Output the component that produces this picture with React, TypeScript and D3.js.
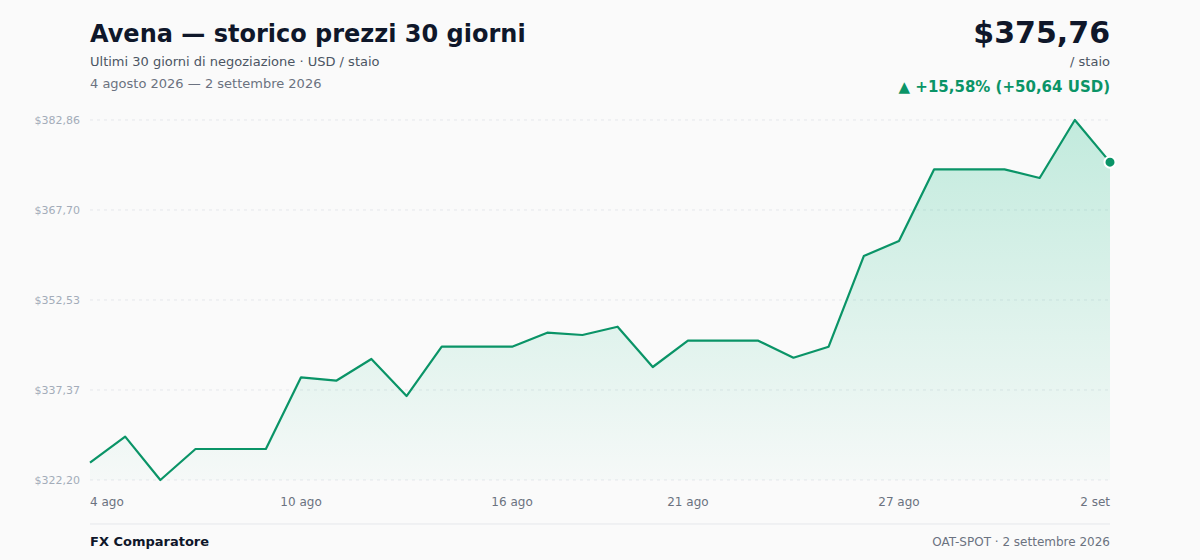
import React, { useEffect, useRef } from 'react';
import * as d3 from 'd3';

// prezzi giornalieri avena (USD / staio), 4 ago -> 2 set 2026
const days: string[] = [
  '2026-08-04', '2026-08-05', '2026-08-06', '2026-08-07', '2026-08-08',
  '2026-08-09', '2026-08-10', '2026-08-11', '2026-08-12', '2026-08-13',
  '2026-08-14', '2026-08-15', '2026-08-16', '2026-08-17', '2026-08-18',
  '2026-08-19', '2026-08-20', '2026-08-21', '2026-08-22', '2026-08-23',
  '2026-08-24', '2026-08-25', '2026-08-26', '2026-08-27', '2026-08-28',
  '2026-08-29', '2026-08-30', '2026-08-31', '2026-09-01', '2026-09-02',
];
const prices: number[] = [
  325.12, 329.50, 322.20, 327.42, 327.42, 327.42, 339.50, 338.93, 342.59, 336.35,
  344.66, 344.66, 344.66, 347.02, 346.63, 348.03, 341.24, 345.67, 345.67, 345.67,
  342.81, 344.66, 359.94, 362.47, 374.55, 374.55, 374.55, 373.09, 382.86, 375.76,
];
const tickDays: string[] = ['2026-08-04', '2026-08-10', '2026-08-16', '2026-08-21', '2026-08-27', '2026-09-02'];
const tickLabels: string[] = ['4 ago', '10 ago', '16 ago', '21 ago', '27 ago', '2 set'];

const W = 1200;
const H = 560;
const FONT = "'DejaVu Sans', sans-serif";
const GREEN = '#0a9467';

// arrotonda prima di formattare (367,695 -> 367,70)
const fmt = (v: number) => (Math.round(v * 100 + 1e-6) / 100).toFixed(2).replace('.', ',');

function drawChart(el: SVGSVGElement) {
  const svg = d3.select(el);
  svg.selectAll('*').remove();

  const left = 90, right = 1110, top = 120, bottom = 480;
  const parse = d3.timeParse('%Y-%m-%d');
  const dates = days.map(d => parse(d) as Date);
  const data = dates.map((d, i) => ({ d, v: prices[i] }));

  const x = d3.scaleTime().domain(d3.extent(dates) as [Date, Date]).range([left, right]);
  const lo = d3.min(prices) as number;
  const hi = d3.max(prices) as number;
  const y = d3.scaleLinear().domain([lo, hi]).range([bottom, top]);

  svg.append('rect').attr('width', W).attr('height', H).attr('fill', '#fafafa');

  // gradient for the area
  const defs = svg.append('defs');
  const grad = defs.append('linearGradient')
    .attr('id', 'areaGrad').attr('x1', 0).attr('y1', 0).attr('x2', 0).attr('y2', 1);
  grad.append('stop').attr('offset', '0%').attr('stop-color', '#10b981').attr('stop-opacity', 0.24);
  grad.append('stop').attr('offset', '100%').attr('stop-color', '#10b981').attr('stop-opacity', 0.02);

  // grid + y labels
  const yTicks = d3.range(5).map(i => lo + (hi - lo) * i / 4);
  yTicks.forEach(t => {
    svg.append('line')
      .attr('x1', left).attr('x2', right)
      .attr('y1', y(t)).attr('y2', y(t))
      .attr('stroke', '#e5e7eb').attr('stroke-width', 1)
      .attr('stroke-dasharray', '3,4');
    svg.append('text')
      .attr('x', 80).attr('y', y(t) + 4)
      .attr('text-anchor', 'end')
      .attr('font-family', FONT).attr('font-size', 11)
      .attr('fill', '#a3acb9')
      .text('$' + fmt(t));
  });

  const area = d3.area<{ d: Date; v: number }>()
    .x(p => x(p.d)).y0(bottom).y1(p => y(p.v));
  svg.append('path').attr('d', area(data)).attr('fill', 'url(#areaGrad)');

  const line = d3.line<{ d: Date; v: number }>().x(p => x(p.d)).y(p => y(p.v));
  svg.append('path').attr('d', line(data))
    .attr('fill', 'none').attr('stroke', GREEN).attr('stroke-width', 2.2)
    .attr('stroke-linejoin', 'round');

  const last = data[data.length - 1];
  svg.append('circle')
    .attr('cx', x(last.d)).attr('cy', y(last.v)).attr('r', 5.5)
    .attr('fill', GREEN).attr('stroke', '#ffffff').attr('stroke-width', 2);

  // x labels
  tickDays.forEach((t, i) => {
    const d = parse(t) as Date;
    svg.append('text')
      .attr('x', x(d)).attr('y', 506)
      .attr('text-anchor', i === 0 ? 'start' : i === tickDays.length - 1 ? 'end' : 'middle')
      .attr('font-family', FONT).attr('font-size', 12)
      .attr('fill', '#6b7280')
      .text(tickLabels[i]);
  });

  // header
  svg.append('text').attr('x', left).attr('y', 42)
    .attr('font-family', FONT).attr('font-size', 24).attr('font-weight', 700)
    .attr('fill', '#0f172a').text('Avena — storico prezzi 30 giorni');
  svg.append('text').attr('x', left).attr('y', 66)
    .attr('font-family', FONT).attr('font-size', 13).attr('fill', '#4b5563')
    .text('Ultimi 30 giorni di negoziazione · USD / staio');
  svg.append('text').attr('x', left).attr('y', 88)
    .attr('font-family', FONT).attr('font-size', 13).attr('fill', '#6b7280')
    .text('4 agosto 2026 — 2 settembre 2026');

  const first = prices[0];
  const diff = last.v - first;
  const pct = diff / first * 100;
  svg.append('text').attr('x', right).attr('y', 43).attr('text-anchor', 'end')
    .attr('font-family', FONT).attr('font-size', 30).attr('font-weight', 700)
    .attr('fill', '#0f172a').text('$' + fmt(last.v));
  svg.append('text').attr('x', right).attr('y', 66).attr('text-anchor', 'end')
    .attr('font-family', FONT).attr('font-size', 13).attr('fill', '#4b5563')
    .text('/ staio');
  svg.append('text').attr('x', right).attr('y', 92).attr('text-anchor', 'end')
    .attr('font-family', FONT).attr('font-size', 15).attr('font-weight', 700)
    .attr('fill', GREEN)
    .text(`▲ +${fmt(pct)}% (+${fmt(diff)} USD)`);

  // footer
  svg.append('line').attr('x1', left).attr('x2', right).attr('y1', 524).attr('y2', 524)
    .attr('stroke', '#e5e7eb').attr('stroke-width', 1);
  svg.append('text').attr('x', left).attr('y', 546)
    .attr('font-family', FONT).attr('font-size', 13).attr('font-weight', 700)
    .attr('fill', '#0f172a').text('FX Comparatore');
  svg.append('text').attr('x', right).attr('y', 546).attr('text-anchor', 'end')
    .attr('font-family', FONT).attr('font-size', 12).attr('fill', '#6b7280')
    .text('OAT-SPOT · 2 settembre 2026');
}

export default function App() {
  const ref = useRef<SVGSVGElement>(null);
  useEffect(() => {
    if (ref.current) drawChart(ref.current);
  }, []);
  return (
    <svg ref={ref} width={W} height={H}
      style={{ position: 'absolute', left: 0, top: 0, display: 'block' }} />
  );
}
